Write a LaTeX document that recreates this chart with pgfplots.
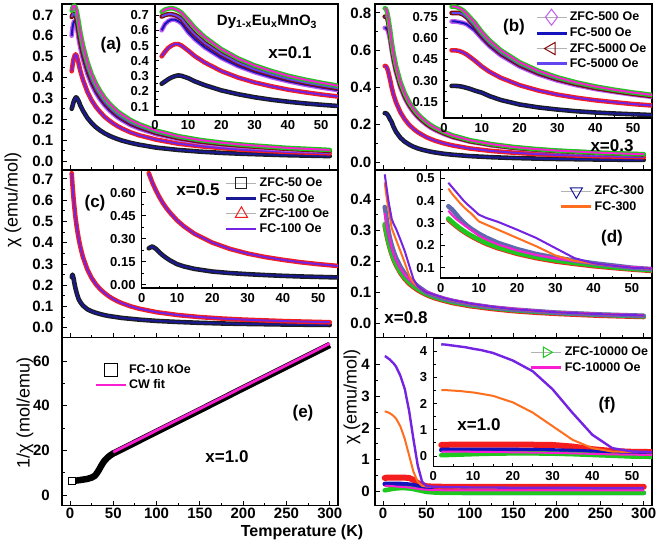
\documentclass[border=0pt]{standalone}
\usepackage{fontspec}
\setmainfont{Liberation Sans}
\usepackage{pgfplots}
\usepackage{pgfplotstable}
\pgfplotsset{compat=1.18}

\definecolor{cBlk}{RGB}{30,30,30}
\definecolor{cNavy}{RGB}{25,25,150}
\definecolor{cRed}{RGB}{245,30,30}
\definecolor{cViolet}{RGB}{115,35,225}
\definecolor{cBlueTri}{RGB}{95,105,175}
\definecolor{cOrange}{RGB}{255,110,30}
\definecolor{cDiam}{RGB}{190,90,240}
\definecolor{cBlue}{RGB}{20,20,190}
\definecolor{cDRed}{RGB}{130,10,10}
\definecolor{cBV}{RGB}{100,70,240}
\definecolor{cGreen}{RGB}{30,200,30}
\definecolor{cMag}{RGB}{250,30,210}

\pgfplotsset{
  base/.style={scale only axis, axis line style={line width=1.2pt},
    tick style={line width=0.9pt, black}, major tick length=5pt, minor tick length=3pt,
    tick align=inside, xtick pos=left, ytick pos=left,
    /pgf/number format/assume math mode=true, clip=true, legend cell align=left},
  mainax/.style={base, xmin=-9.2, xmax=309.5, xtick={0,50,...,300}, minor x tick num=1, minor y tick num=1,
    tick label style={font=\fontsize{15}{15}\selectfont\bfseries},
    xticklabel style={inner sep=0pt, yshift=-2pt}, yticklabel style={inner sep=0pt}},
  insax/.style={base, axis background/.style={fill=white}, xmin=0, xtick={0,10,...,50},
    minor x tick num=1, minor y tick num=1,
    tick label style={font=\fontsize{13}{13}\selectfont\bfseries},
    xticklabel style={inner sep=0pt, yshift=-5pt}, yticklabel style={inner sep=0pt, xshift=-6pt},
    major tick length=4pt, minor tick length=2.5pt},
  leg/.style={legend image code/.code={\draw[mark repeat=2,mark phase=2,##1] plot coordinates {(0pt,0pt) (15pt,0pt) (30pt,0pt)};},
    legend style={draw=none, fill=none, inner sep=0pt, row sep=1pt,
      font=\fontsize{12.5}{13}\selectfont\bfseries, nodes={inner sep=2pt}}},
  zb/.style={line width=4.6pt, forget plot, line join=round, line cap=round},
  fl/.style={line width=2pt, forget plot, line join=round},
}
\newcommand{\pl}[3]{\addplot[#1] table[x=T,y=#2]{#3};}

\pgfplotstableread{
T a50 a100 a500 a5k a10k
2 .250 .430 .600 .690 .720
3 .265 .460 .640 .700 .735
4 .280 .485 .660 .705 .742
5 .292 .500 .670 .705 .745
6 .300 .510 .670 .700 .740
7 .305 .510 .660 .690 .730
8 .302 .500 .645 .675 .715
10 .287 .467 .587 .620 .667
12 .266 .431 .542 .573 .616
15 .241 .389 .488 .516 .555
20 .207 .333 .419 .443 .476
25 .182 .291 .366 .387 .416
30 .162 .259 .326 .344 .370
35 .146 .234 .294 .311 .334
40 .133 .212 .267 .282 .303
45 .122 .195 .245 .259 .278
50 .113 .180 .226 .239 .257
55 .105 .167 .209 .221 .238
60 .098 .156 .196 .207 .223
70 .087 .137 .172 .182 .196
80 .078 .123 .155 .164 .176
100 .064 .102 .128 .135 .145
125 .053 .083 .105 .111 .119
150 .045 .071 .089 .094 .101
175 .039 .062 .077 .082 .088
200 .0345 .054 .069 .073 .078
250 .028 .044 .055 .059 .063
300 .0236 .037 .047 .049 .053
}\tA

\pgfplotstableread{
T b50 b100 b500 b5k b10k
2 .262 .515 .720 .780 .825
3 .262 .515 .720 .780 .825
4 .260 .510 .715 .780 .815
5 .255 .500 .710 .770 .800
6 .248 .485 .700 .750 .775
7 .240 .465 .680 .720 .745
8 .230 .445 .660 .690 .717
10 .214 .400 .600 .620 .645
12 .190 .363 .545 .563 .586
15 .162 .320 .480 .495 .516
20 .130 .267 .400 .413 .430
25 .109 .229 .343 .354 .369
30 .094 .200 .300 .310 .323
35 .082 .178 .267 .276 .287
40 .073 .160 .240 .248 .258
45 .066 .146 .219 .226 .235
50 .0604 .133 .200 .206 .215
55 .0552 .123 .184 .190 .198
60 .051 .114 .171 .177 .184
70 .044 .100 .150 .155 .161
80 .039 .089 .133 .137 .143
100 .0316 .0725 .109 .112 .117
125 .0256 .059 .089 .092 .0956
150 .0214 .050 .075 .077 .0806
175 .0185 .043 .065 .067 .0697
200 .0162 .038 .057 .059 .0614
250 .0131 .031 .046 .048 .0496
300 .011 .026 .039 .040 .0416
}\tB

\pgfplotstableread{
T c50 c100
2 .238 .727
3 .250 .666
4 .235 .615
5 .212 .571
6 .192 .532
7 .175 .499
8 .160 .470
10 .135 .420
12 .120 .380
15 .104 .332
20 .087 .275
25 .077 .234
30 .070 .204
35 .064 .181
40 .059 .163
45 .055 .1475
50 .052 .135
55 .049 .1245
60 .046 .1154
70 .042 .1008
80 .038 .0895
100 .032 .0731
125 .027 .0594
150 .023 .0501
175 .020 .0433
200 .018 .0381
250 .015 .0307
300 .013 .0258
}\tC

\pgfplotstableread{
T dz100 dfc100 dz300 dfc300 dz10k dfc10k
2 .315 .480 .375 .454 .320 .355
3 .300 .460 .360 .430 .305 .335
4 .286 .440 .340 .410 .290 .318
5 .273 .420 .320 .390 .277 .305
6 .261 .400 .302 .372 .265 .292
7 .250 .383 .287 .356 .254 .280
8 .240 .368 .274 .342 .244 .268
10 .222 .337 .252 .307 .226 .243
12 .206 .322 .234 .292 .210 .225
15 .187 .305 .211 .270 .191 .204
20 .162 .270 .183 .233 .166 .177
25 .143 .233 .161 .196 .147 .157
30 .128 .188 .145 .155 .133 .142
35 .117 .143 .132 .131 .121 .129
40 .107 .120 .120 .118 .111 .119
45 .099 .109 .110 .108 .102 .110
50 .092 .100 .100 .100 .095 .103
55 .086 .096 .094 .095 .089 .098
60 .081 .091 .089 .090 .084 .092
70 .073 .082 .080 .081 .076 .083
80 .066 .075 .073 .074 .069 .076
100 .056 .064 .062 .063 .059 .065
125 .047 .054 .052 .053 .050 .055
150 .040 .046 .045 .046 .043 .048
175 .035 .041 .040 .040 .038 .042
200 .031 .036 .035 .036 .034 .037
250 .025 .030 .029 .030 .028 .031
300 .021 .026 .025 .026 .023 .027
}\tD

\pgfplotstableread{
T inv
2 6.2
4 6.3
6 6.4
8 6.5
10 6.6
15 6.9
20 7.2
25 7.8
28 8.4
30 9.2
32 10.3
34 11.6
36 13.0
38 14.3
40 15.4
43 16.6
46 17.6
50 18.6
55 19.5
60 20.5
80 24.4
100 28.3
150 38.0
200 47.8
250 57.5
300 67.2
}\tE

\pgfplotstableread{
T fzr fv fzb fo fzg fm
2 .42 4.27 .23 2.52 .03 .17
3 .42 4.26 .23 2.52 .035 .17
4 .43 4.24 .23 2.51 .04 .17
5 .43 4.22 .23 2.50 .045 .17
6 .43 4.20 .23 2.49 .05 .17
7 .43 4.18 .23 2.48 .055 .165
8 .43 4.16 .23 2.46 .06 .165
10 .43 4.10 .23 2.43 .07 .16
12 .43 4.05 .23 2.38 .08 .16
15 .43 3.94 .23 2.30 .09 .15
20 .43 3.65 .23 2.05 .10 .14
25 .43 3.24 .22 1.66 .10 .13
30 .42 2.55 .21 1.14 .09 .12
35 .36 1.65 .19 .62 .07 .10
40 .26 .81 .16 .30 .04 .08
45 .19 .30 .12 .17 .01 .06
50 .16 .17 .07 .15 -.02 .05
55 .15 .15 .03 .14 -.03 .04
60 .15 .14 0 .13 -.04 .04
70 .14 .13 -.03 .12 -.05 .03
80 .14 .13 -.04 .12 -.05 .03
100 .14 .12 -.05 .11 -.05 .03
125 .14 .12 -.05 .11 -.05 .03
150 .14 .11 -.05 .11 -.05 .03
175 .14 .11 -.05 .10 -.05 .03
200 .14 .11 -.05 .10 -.05 .03
250 .14 .10 -.05 .10 -.05 .03
300 .14 .10 -.05 .10 -.05 .03
}\tF

\newcommand{\plotA}{%
  \pl{draw=cBlk,zb}{a50}{\tA}\pl{draw=cNavy,fl}{a50}{\tA}
  \pl{draw=cRed,zb}{a100}{\tA}\pl{draw=cViolet,fl}{a100}{\tA}
  \pl{draw=cDiam,zb}{a500}{\tA}\pl{draw=cBlue,fl}{a500}{\tA}
  \pl{draw=cDRed,zb}{a5k}{\tA}\pl{draw=cBV,fl}{a5k}{\tA}
  \pl{draw=cGreen,zb}{a10k}{\tA}\pl{draw=cMag,fl}{a10k}{\tA}}
\newcommand{\plotB}{%
  \pl{draw=cBlk,zb}{b50}{\tB}\pl{draw=cNavy,fl}{b50}{\tB}
  \pl{draw=cRed,zb}{b100}{\tB}\pl{draw=cViolet,fl}{b100}{\tB}
  \pl{draw=cDiam,zb}{b500}{\tB}\pl{draw=cBlue,fl}{b500}{\tB}
  \pl{draw=cDRed,zb}{b5k}{\tB}\pl{draw=cBV,fl}{b5k}{\tB}
  \pl{draw=cGreen,zb}{b10k}{\tB}\pl{draw=cMag,fl}{b10k}{\tB}}
\newcommand{\plotC}{%
  \pl{draw=cBlk,zb}{c50}{\tC}\pl{draw=cNavy,fl}{c50}{\tC}
  \pl{draw=cRed,zb}{c100}{\tC}\pl{draw=cViolet,fl}{c100}{\tC}}
\newcommand{\plotD}{%
  \pl{draw=cRed,zb}{dz100}{\tD}
  \pl{draw=cGreen,zb}{dz10k}{\tD}
  \pl{draw=cBlueTri,zb}{dz300}{\tD}
  \pl{draw=cMag,fl}{dfc10k}{\tD}
  \pl{draw=cOrange,fl}{dfc300}{\tD}
  \pl{draw=cViolet,fl}{dfc100}{\tD}}
\newcommand{\plotF}{%
  \pl{draw=cRed,zb,line width=6pt}{fzr}{\tF}
  \pl{draw=cBlue,zb}{fzb}{\tF}
  \pl{draw=cGreen,zb}{fzg}{\tF}
  \pl{draw=cMag,fl}{fm}{\tF}
  \pl{draw=cOrange,fl}{fo}{\tF}
  \pl{draw=cViolet,fl,line width=2.4pt}{fv}{\tF}}

\begin{document}
\begin{tikzpicture}[x=1pt,y=1pt]
\useasboundingbox (0,0) rectangle (661,547);

% ---------- main (a)
\begin{axis}[mainax, at={(62pt,377pt)}, anchor=south west, width=276pt, height=166pt,
  ymin=-0.043, ymax=0.752, ytick={0,0.1,0.2,0.3,0.4,0.5,0.6,0.7}, xticklabels={},
  yticklabel style={xshift=-8.5pt, /pgf/number format/fixed, /pgf/number format/fixed zerofill, /pgf/number format/precision=1}]
\plotA
\end{axis}
% ---------- main (c)
\begin{axis}[mainax, at={(62pt,209.5pt)}, anchor=south west, width=276pt, height=167.5pt,
  ymin=-0.046, ymax=0.742, ytick={0,0.1,0.2,0.3,0.4,0.5,0.6,0.7}, xticklabels={},
  yticklabel style={xshift=-8.5pt, /pgf/number format/fixed, /pgf/number format/fixed zerofill, /pgf/number format/precision=1}]
\plotC
\end{axis}
% ---------- main (e)
\begin{axis}[mainax, leg, at={(62pt,41.5pt)}, anchor=south west, width=276pt, height=168pt,
  ymin=-4.7, ymax=70.5, ytick={0,20,40,60},
  yticklabel style={xshift=-12pt},
  legend style={at={(0.116,0.854)}, anchor=north west}]
\addplot[black, line width=6.5pt, line join=round, forget plot] table[x=T,y=inv]{\tE};
\addplot[only marks, mark=square*, mark size=3.5pt, mark options={fill=white, draw=black, line width=0.8pt}, forget plot] coordinates {(2,6.2)};
\addplot[cMag, line width=2.8pt, forget plot] coordinates {(50,19.2) (300,67.8)};
\addlegendimage{only marks, mark=square, mark size=6.5pt, mark options={draw=black, fill=white, line width=1pt}}
\addlegendentry{FC-10 kOe}
\addlegendimage{cMag, line width=2.8pt}
\addlegendentry{CW fit}
\end{axis}
% ---------- main (b)
\begin{axis}[mainax, at={(375pt,377pt)}, anchor=south west, width=277pt, height=166pt,
  ymin=-0.043, ymax=0.848, ytick={0,0.2,0.4,0.6,0.8}, xticklabels={},
  yticklabel style={xshift=-3.5pt, /pgf/number format/fixed, /pgf/number format/fixed zerofill, /pgf/number format/precision=1}]
\plotB
\end{axis}
% ---------- main (d)
\begin{axis}[mainax, at={(375pt,209.5pt)}, anchor=south west, width=277pt, height=167.5pt,
  ymin=-0.045, ymax=0.494, ytick={0,0.1,0.2,0.3,0.4}, xticklabels={},
  yticklabel style={xshift=-3.5pt, /pgf/number format/fixed, /pgf/number format/fixed zerofill, /pgf/number format/precision=1}]
\plotD
\end{axis}
% ---------- main (f)
\begin{axis}[mainax, at={(375pt,41.5pt)}, anchor=south west, width=277pt, height=168pt,
  ymin=-0.45, ymax=4.86, ytick={0,1,2,3,4},
  yticklabel style={xshift=-5pt}]
\plotF
\end{axis}

% ---------- inset (a)
\begin{axis}[insax, at={(155pt,432pt)}, anchor=south west, width=183pt, height=111pt,
  xmax=55.1, ymin=0.046, ymax=0.772, ytick={0.1,0.2,0.3,0.4,0.5,0.6,0.7},
  yticklabel style={/pgf/number format/fixed, /pgf/number format/fixed zerofill, /pgf/number format/precision=1}]
\plotA
\end{axis}
% ---------- inset (b)
\begin{axis}[insax, leg, at={(444pt,429pt)}, anchor=south west, width=208pt, height=114pt,
  xmax=55, ymin=0.034, ymax=0.844, ytick={0.15,0.30,0.45,0.60,0.75},
  yticklabel style={/pgf/number format/fixed, /pgf/number format/fixed zerofill, /pgf/number format/precision=2},
  legend style={at={(0.4375,0.956)}, anchor=north west}]
\plotB
\addlegendimage{draw=gray!60, line width=0.6pt, mark=diamond, mark size=8pt, mark options={draw=cDiam, fill=white, line width=1pt, solid}}
\addlegendentry{ZFC-500 Oe}
\addlegendimage{cBlue, line width=2.6pt}
\addlegendentry{FC-500 Oe}
\addlegendimage{draw=gray!60, line width=0.6pt, mark=triangle, mark size=7pt, mark options={draw=cDRed, fill=white, line width=1pt, solid, rotate=90}}
\addlegendentry{ZFC-5000 Oe}
\addlegendimage{cBV, line width=2.6pt}
\addlegendentry{FC-5000 Oe}
\end{axis}
% ---------- inset (c)
\begin{axis}[insax, leg, at={(141.7pt,259pt)}, anchor=south west, width=196.3pt, height=118pt,
  xmax=55.6, ymin=-0.02, ymax=0.747, ytick={0,0.15,0.30,0.45,0.60},
  yticklabel style={/pgf/number format/fixed, /pgf/number format/fixed zerofill, /pgf/number format/precision=2},
  legend style={at={(0.424,0.949)}, anchor=north west}]
\plotC
\addlegendimage{draw=gray!60, line width=0.6pt, mark=square, mark size=5.5pt, mark options={draw=cBlk, fill=white, line width=1pt, solid}}
\addlegendentry{ZFC-50 Oe}
\addlegendimage{cNavy, line width=2.6pt}
\addlegendentry{FC-50 Oe}
\addlegendimage{draw=gray!60, line width=0.6pt, mark=triangle, mark size=7pt, mark options={draw=cRed, fill=white, line width=1pt, solid}}
\addlegendentry{ZFC-100 Oe}
\addlegendimage{cViolet, line width=2.6pt}
\addlegendentry{FC-100 Oe}
\end{axis}
% ---------- inset (d)
\begin{axis}[insax, leg, at={(440.7pt,269pt)}, anchor=south west, width=211.3pt, height=108pt,
  xmax=55.3, ymin=0.054, ymax=0.537, ytick={0.1,0.2,0.3,0.4,0.5},
  yticklabel style={/pgf/number format/fixed, /pgf/number format/fixed zerofill, /pgf/number format/precision=1},
  legend style={at={(0.564,0.870)}, anchor=north west}]
\plotD
\addlegendimage{draw=gray!60, line width=0.6pt, mark=triangle, mark size=7pt, mark options={draw=cNavy, fill=white, line width=1pt, solid, rotate=180}}
\addlegendentry{ZFC-300}
\addlegendimage{cOrange, line width=2.6pt}
\addlegendentry{FC-300}
\end{axis}
% ---------- inset (f)
\begin{axis}[insax, leg, at={(433.3pt,80.3pt)}, anchor=south west, width=218.7pt, height=128.4pt,
  xmax=55, ymin=-0.41, ymax=4.5, ytick={0,1,2,3,4},
  legend style={at={(0.442,0.948)}, anchor=north west}]
\plotF
\addlegendimage{draw=gray!60, line width=0.6pt, mark=triangle, mark size=6pt, mark options={draw=cGreen, fill=white, line width=1pt, solid, rotate=-90}}
\addlegendentry{ZFC-10000 Oe}
\addlegendimage{cMag, line width=2.6pt}
\addlegendentry{FC-10000 Oe}
\end{axis}

% ---------- texts
\newcommand{\lab}{\fontsize{17}{17}\selectfont\bfseries}
\node at (267pt,525pt) {\fontsize{15}{15}\selectfont\bfseries Dy\textsubscript{1-x}Eu\textsubscript{x}MnO\textsubscript{3}};
\node at (290pt,494pt) {\lab x=0.1};
\node at (111pt,502pt) {\lab (a)};
\node at (514pt,520pt) {\lab (b)};
\node at (612pt,401pt) {\lab x=0.3};
\node at (95pt,344pt) {\lab (c)};
\node at (198pt,357pt) {\lab x=0.5};
\node at (612pt,309pt) {\lab (d)};
\node at (406pt,229pt) {\lab x=0.8};
\node at (303pt,134pt) {\lab (e)};
\node at (227pt,90pt) {\lab x=1.0};
\node at (607pt,142pt) {\lab (f)};
\node at (479pt,122pt) {\lab x=1.0};
\node[rotate=90] at (13pt,347pt) {\fontsize{18}{18}\selectfont χ (emu/mol)};
\node[rotate=90] at (25pt,134pt) {\fontsize{18}{18}\selectfont 1/χ (mol/emu)};
\node[rotate=90] at (352pt,150pt) {\fontsize{18}{18}\selectfont χ (emu/mol)};
\node at (302pt,15pt) {\fontsize{16}{16}\selectfont\bfseries Temperature (K)};
\end{tikzpicture}
\end{document}
